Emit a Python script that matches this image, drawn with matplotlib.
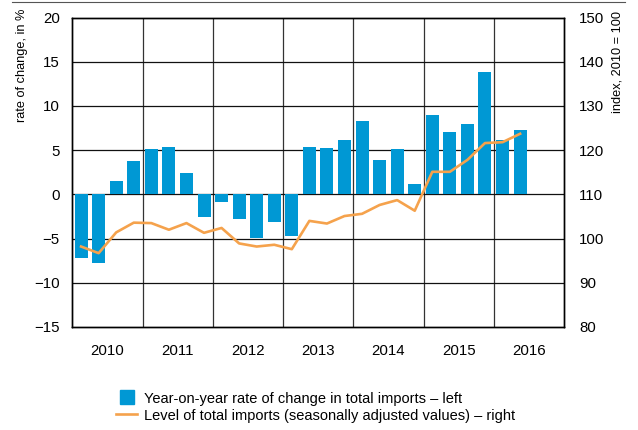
import matplotlib.pyplot as plt
from matplotlib.lines import Line2D

# quarterly data, 2010Q1 .. 2016Q2
yoy_change = [-7.2, -7.8, 1.5, 3.8,
              5.1, 5.3, 2.4, -2.6,
              -0.9, -2.8, -4.9, -3.1,
              -4.7, 5.3, 5.2, 6.1,
              8.3, 3.9, 5.1, 1.2,
              9.0, 7.0, 8.0, 13.8,
              6.1, 7.3]
import_level = [98.2, 96.7, 101.4, 103.6,
                103.5, 102.0, 103.5, 101.3,
                102.4, 98.9, 98.2, 98.6,
                97.6, 104.0, 103.4, 105.1,
                105.6, 107.6, 108.7, 106.3,
                115.1, 115.1, 117.8, 121.6,
                121.8, 123.7]
years = ['2010', '2011', '2012', '2013', '2014', '2015', '2016']
bar_label = 'Year-on-year rate of change in total imports – left'
line_label = 'Level of total imports (seasonally adjusted values) – right'

plt.rcParams['font.family'] = ['Liberation Sans', 'DejaVu Sans']

BLUE = '#0098d4'
ORANGE = '#f5a24c'

fig = plt.figure(figsize=(6.38, 4.30), dpi=100)
ax = fig.add_axes([72.3 / 638, 1 - 327 / 430, (564 - 72.3) / 638, (327 - 17.5) / 430])
ax2 = ax.twinx()

q = list(range(len(yoy_change)))
ax.bar(q, yoy_change, width=0.74, color=BLUE, zorder=2)
ax2.plot(q, import_level, color=ORANGE, lw=1.9, zorder=3)

ax.set_xlim(-0.5, 4 * len(years) - 0.5)
ax.set_ylim(-15, 20)
ax2.set_ylim(80, 150)
ax.set_yticks(range(-15, 21, 5))
ax.set_yticklabels([str(v).replace('-', '\u2212') for v in range(-15, 21, 5)])
ax2.set_yticks(range(80, 151, 10))

ax.set_xticks([4 * i + 1.5 for i in range(len(years))])
ax.set_xticklabels(years)
for i in range(1, len(years)):
    ax.axvline(4 * i - 0.5, color='#333333', lw=0.9, zorder=1)
for v in range(-10, 20, 5):
    ax.axhline(v, color='#111111', lw=0.9, zorder=1)

for a in (ax, ax2):
    a.tick_params(length=0, labelsize=10.8)
    for s in a.spines.values():
        s.set_color('black')
        s.set_linewidth(1.0)
ax.tick_params(axis='y', pad=9)
ax.tick_params(axis='x', pad=12)
ax2.tick_params(pad=11)
# line drawn above the bars
ax.set_zorder(1)
ax2.set_zorder(2)
ax2.patch.set_visible(False)

fig.text(22 / 638, 1 - 9 / 430, 'rate of change, in %', rotation=90,
         ha='center', va='top', fontsize=9.2)
fig.text(617 / 638, 1 - 11 / 430, 'index, 2010 = 100', rotation=90,
         ha='center', va='top', fontsize=9.2)

fig.add_artist(Line2D([12 / 638, 625 / 638], [1 - 2 / 430, 1 - 2 / 430],
                      color='#555555', lw=0.8))

handles = [Line2D([], [], color=BLUE, marker='s', markersize=9.5, ls='none'),
           Line2D([], [], color=ORANGE, lw=1.9)]
fig.legend(handles, [bar_label, line_label], loc='upper left',
           bbox_to_anchor=(109 / 638, 1 - 384 / 430), frameon=False,
           fontsize=10.5, handlelength=1.45, handleheight=1.0,
           handletextpad=0.45, labelspacing=0.15, borderpad=0)

fig.savefig('out.png', dpi=100)
